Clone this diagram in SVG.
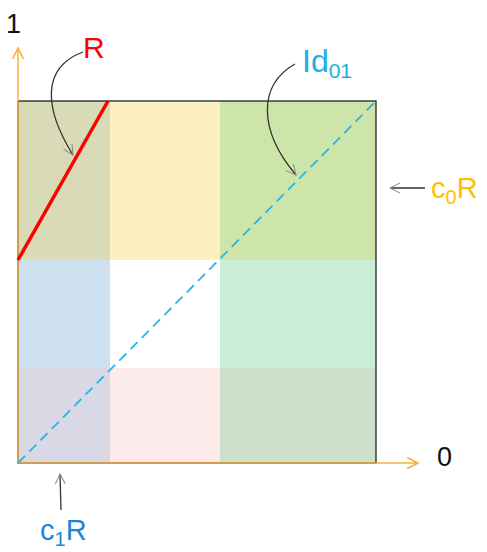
<svg xmlns="http://www.w3.org/2000/svg" width="487" height="552" viewBox="0 0 487 552">
<defs>
<style>
.lbl{font-family:"Liberation Sans","Noto Sans",sans-serif;}
.ptr{fill:none;stroke:#333;stroke-width:1.3}
.axis{stroke:#f5b041;stroke-width:1.5;fill:none}
</style>
<marker id="open" viewBox="0 0 12 12" refX="11" refY="6" markerWidth="12" markerHeight="12" markerUnits="userSpaceOnUse" orient="auto">
<path d="M1,1 L11,6 L1,11" fill="none" stroke="#888" stroke-width="1"/>
</marker>
<marker id="oax" viewBox="0 0 12 12" refX="11" refY="6" markerWidth="13" markerHeight="13" markerUnits="userSpaceOnUse" orient="auto">
<path d="M1,1 L11,6 L1,11" fill="none" stroke="#f5b041" stroke-width="1.5"/>
</marker>
</defs>
<rect width="487" height="552" fill="#fff"/>
<g id="grid">
<rect x="18" y="101" width="92" height="159" fill="#d8dbb5"/>
<rect x="110" y="101" width="110" height="159" fill="#fdf0c0"/>
<rect x="220" y="101" width="156" height="159" fill="#cde5a9"/>
<rect x="18" y="260" width="92" height="108" fill="#cce0f0"/>
<rect x="110" y="260" width="110" height="108" fill="#ffffff"/>
<rect x="220" y="260" width="156" height="108" fill="#cbeed9"/>
<rect x="18" y="368" width="92" height="95" fill="#d9d9e6"/>
<rect x="110" y="368" width="110" height="95" fill="#fdebeb"/>
<rect x="220" y="368" width="156" height="95" fill="#cde0cb"/>
<rect x="18" y="101" width="358" height="362" fill="none" stroke="#222" stroke-width="1.3"/>
</g>
<g id="connectors">
<line x1="18" y1="463" x2="18" y2="48" class="axis" marker-end="url(#oax)"/>
<line x1="18" y1="463" x2="418" y2="463" class="axis" marker-end="url(#oax)"/>
<line x1="18" y1="260" x2="108" y2="101" stroke="#ff0000" stroke-width="3.5"/>
<line x1="18" y1="463" x2="376" y2="101" stroke="#2bb5e6" stroke-width="1.8" stroke-dasharray="10,6"/>
<path d="M83,52 C40,68 45,110 73,155" class="ptr" marker-end="url(#open)"/>
<path d="M295,64 C258,85 258,130 296,175" class="ptr" marker-end="url(#open)"/>
<path d="M425,188 L390,188" class="ptr" marker-end="url(#open)"/>
<path d="M61,510 L60,474" class="ptr" marker-end="url(#open)"/>
</g>
<g id="labels" class="lbl">
<text x="6" y="33" font-size="27" fill="#111">1</text>
<text x="437" y="466" font-size="27" fill="#111">0</text>
<text x="83" y="58" font-size="30" fill="#ff0000">R</text>
<text x="302" y="72" font-size="32" fill="#1ab0e8">Id<tspan font-size="21" dy="6">01</tspan></text>
<text x="431" y="198" font-size="29" fill="#ffc000">c<tspan font-size="20" dy="6">0</tspan><tspan dy="-6">R</tspan></text>
<text x="40" y="540" font-size="29" fill="#1e85d8">c<tspan font-size="20" dy="6">1</tspan><tspan dy="-6">R</tspan></text>
</g>
</svg>
